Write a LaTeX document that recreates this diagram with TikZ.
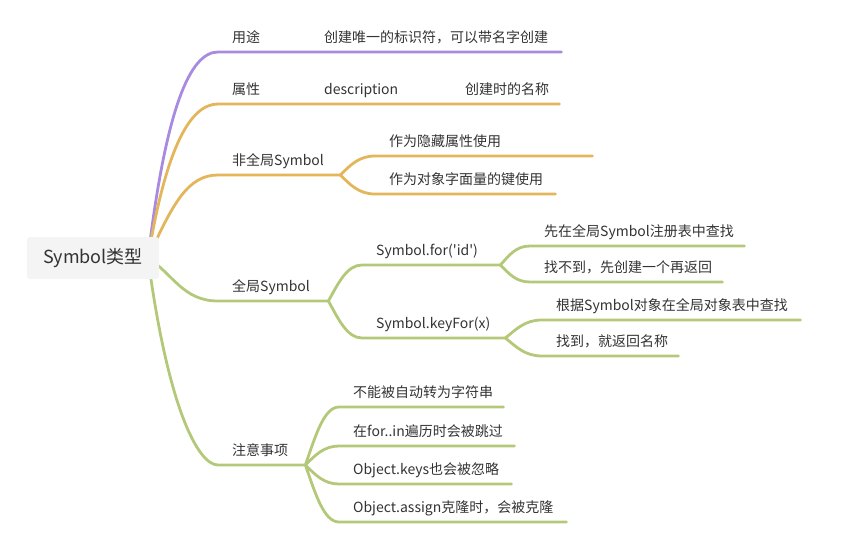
\documentclass[tikz,border=0pt]{standalone}
\usepackage{fontspec}
\newfontfamily\mmfont{Noto Sans CJK SC}
\usepackage{xcolor}
\usepackage{tikz}
\usetikzlibrary{positioning}
\pgfdeclarelayer{nodelayer}
\pgfdeclarelayer{edgelayer}
\pgfsetlayers{main,edgelayer,nodelayer}
\definecolor{mmpurple}{HTML}{A88BE0}
\definecolor{mmorange}{HTML}{E4B65C}
\definecolor{mmgreen}{HTML}{B4C87A}
\definecolor{mmtext}{HTML}{333333}
\definecolor{mmroot}{HTML}{F4F4F4}
\tikzstyle{root node}=[fill=mmroot, rounded corners=3pt, minimum width=132pt, minimum height=42pt, inner sep=0pt, font=\mmfont\fontsize{18}{20}\selectfont, text=mmtext]
\tikzstyle{topic}=[anchor=south west, inner xsep=14pt, inner ysep=6pt, text height=11pt, text depth=3pt, align=left, font=\mmfont\fontsize{14}{16}\selectfont, text=mmtext]
\tikzstyle{purple_edge}=[-, draw=mmpurple, line width=2.8pt, line cap=round, line join=round]
\tikzstyle{orange_edge}=[-, draw=mmorange, line width=2.8pt, line cap=round, line join=round]
\tikzstyle{green_edge}=[-, draw=mmgreen, line width=2.8pt, line cap=round, line join=round]

\begin{document}
\begin{tikzpicture}[x=1pt, y=-1pt]
        \useasboundingbox (0,0) rectangle (848,541);
        \begin{pgfonlayer}{nodelayer}
            \node[style=root node] (symbol) at (93,258) {Symbol类型};
            \coordinate (hub) at (148,258);
            % first level
            \node[style=topic, text width=22pt] (use) at (218,52) {用途};
            \node[style=topic, text width=22pt] (prop) at (218,104) {属性};
            \node[style=topic, text width=94pt] (local) at (218,175) {非全局Symbol};
            \node[style=topic, text width=82pt] (global) at (218,301) {全局Symbol};
            \node[style=topic, text width=59pt] (notes) at (218,465) {注意事项};
            % second level
            \node[style=topic, text width=223pt] (usedesc) at (310,52) {创建唯一的标识符，可以带名字创建};
            \node[style=topic, text width=70pt] (descr) at (310,104) {description};
            \node[style=topic, text width=80pt] (descname) at (451,104) {创建时的名称};
            \node[style=topic, text width=189pt] (hidden) at (375,156) {作为隐藏属性使用};
            \node[style=topic, text width=152pt] (objkey) at (375,194) {作为对象字面量的键使用};
            \node[style=topic, text width=110pt] (sfor) at (362,265) {Symbol.for('id')};
            \node[style=topic, text width=115pt] (skeyfor) at (362,338) {Symbol.keyFor(x)};
            \node[style=topic, text width=136pt] (n1) at (339,407) {不能被自动转为字符串};
            \node[style=topic, text width=147pt] (n2) at (339,446) {在for..in遍历时会被跳过};
            \node[style=topic, text width=144pt] (n3) at (339,484) {Object.keys也会被忽略};
            \node[style=topic, text width=199pt] (n4) at (339,522) {Object.assign克隆时，会被克隆};
            % third level
            \node[style=topic, text width=186pt] (lookup) at (530,246) {先在全局Symbol注册表中查找};
            \node[style=topic, text width=164pt] (create) at (530,282) {找不到，先创建一个再返回};
            \node[style=topic, text width=230pt] (search) at (542,320) {根据Symbol对象在全局对象表中查找};
            \node[style=topic, text width=108pt] (found) at (542,356) {找到，就返回名称};
        \end{pgfonlayer}
        \begin{pgfonlayer}{edgelayer}
            \draw[style={purple_edge}] (hub) .. controls +(18,-150) and +(-28,0) .. (use.south west) -- (use.south east) -- (usedesc.south west) -- (usedesc.south east);
            \draw[style={orange_edge}] (hub) .. controls +(18,-110) and +(-28,0) .. (prop.south west) -- (prop.south east) -- (descr.south west) -- (descr.south east) -- (descname.south west) -- (descname.south east);
            \draw[style={orange_edge}] (hub) .. controls +(25,-55) and +(-30,0) .. (local.south west) -- (local.south east);
            \draw[style={green_edge}] (hub) .. controls +(25,16) and +(-35,0) .. (global.south west) -- (global.south east);
            \draw[style={green_edge}] (hub) .. controls +(20,150) and +(-20,0) .. (notes.south west) -- (notes.south east);

            \draw[style={orange_edge}] (local.south east) .. controls +(10,-10) and +(-16,0) .. (hidden.south west) -- (hidden.south east);
            \draw[style={orange_edge}] (local.south east) .. controls +(10,10) and +(-16,0) .. (objkey.south west) -- (objkey.south east);

            \draw[style={green_edge}] (global.south east) .. controls +(10,-18) and +(-15,0) .. (sfor.south west) -- (sfor.south east);
            \draw[style={green_edge}] (global.south east) .. controls +(10,18) and +(-15,0) .. (skeyfor.south west) -- (skeyfor.south east);
            \draw[style={green_edge}] (sfor.south east) .. controls +(9,-10) and +(-14,0) .. (lookup.south west) -- (lookup.south east);
            \draw[style={green_edge}] (sfor.south east) .. controls +(9,9) and +(-14,0) .. (create.south west) -- (create.south east);
            \draw[style={green_edge}] (skeyfor.south east) .. controls +(11,-9) and +(-17,0) .. (search.south west) -- (search.south east);
            \draw[style={green_edge}] (skeyfor.south east) .. controls +(11,9) and +(-17,0) .. (found.south west) -- (found.south east);

            \draw[style={green_edge}] (notes.south east) .. controls +(10,-29) and +(-15,0) .. (n1.south west) -- (n1.south east);
            \draw[style={green_edge}] (notes.south east) .. controls +(10,-10) and +(-15,0) .. (n2.south west) -- (n2.south east);
            \draw[style={green_edge}] (notes.south east) .. controls +(10,10) and +(-15,0) .. (n3.south west) -- (n3.south east);
            \draw[style={green_edge}] (notes.south east) .. controls +(10,29) and +(-15,0) .. (n4.south west) -- (n4.south east);
        \end{pgfonlayer}
    \end{tikzpicture}
\end{document}
